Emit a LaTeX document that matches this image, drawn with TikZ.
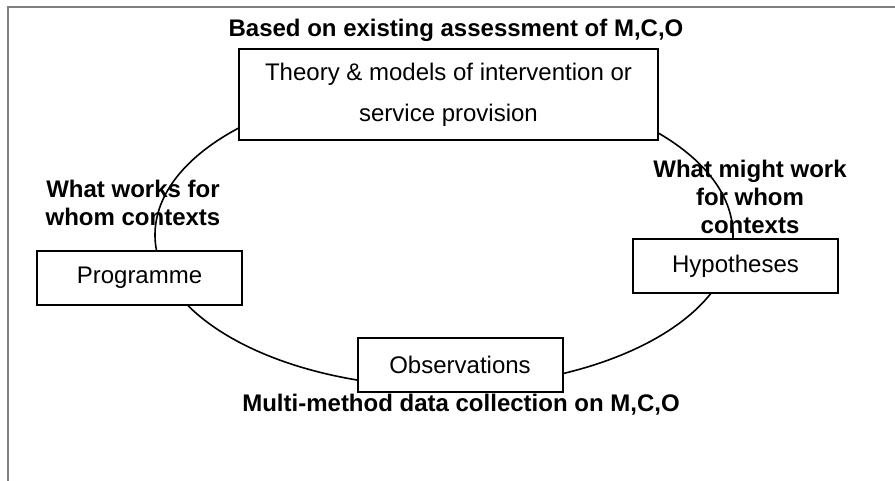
\documentclass[tikz,border=0pt]{standalone}
\usepackage{fontspec}
\setmainfont{Liberation Sans}
\usetikzlibrary{shapes.geometric}

\begin{document}
\begin{tikzpicture}[x=0.5pt, y=-0.5pt, font=\fontsize{12}{14}\selectfont,
  kasten/.style={draw, line width=1pt, fill=white, inner sep=0pt, align=center, minimum width=102.5pt, minimum height=27pt},
  notiz/.style={font=\fontsize{12}{14}\selectfont\bfseries, align=center, inner sep=0pt}]
\useasboundingbox (0,0) rectangle (895,481);
\draw [color=black!50, line width=1pt] (895,7) -- (8,7) -- (8,481);
\draw [line width=0.8pt] (444,235) ellipse [x radius=289, y radius=152];
\node [kasten, minimum width=209.5pt, minimum height=45.5pt, font=\fontsize{12}{20.5}\selectfont, name=theorie] at (448.5,94.5) {Theory \& models of intervention or\\service provision};
\node [kasten, name=programm] at (139.5,278) {Programme};
\node [kasten, name=hypothesen] at (735.5,266) {Hypotheses};
\node [kasten, name=beobachtung] at (460,365) {Observations};
\node [notiz, name=basis] at (456,30) {Based on existing assessment of M,C,O};
\node [notiz, name=wirkt] at (133,203) {What works for\\whom contexts};
\node [notiz, name=koennte] at (750,197) {What might work\\for whom\\contexts};
\node [notiz, name=methoden] at (461,405) {Multi-method data collection on M,C,O};
\end{tikzpicture}
\end{document}
